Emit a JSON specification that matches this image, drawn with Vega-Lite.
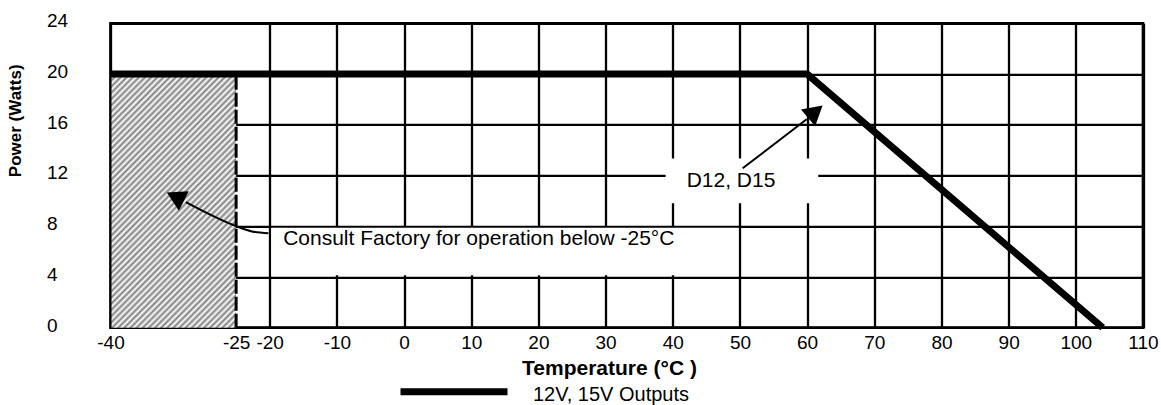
{
  "$schema": "https://vega.github.io/schema/vega-lite/v6.json",
  "autosize": "none",
  "width": 1032.5,
  "height": 304.4,
  "padding": {"left": 110.5, "top": 23.3, "right": 18, "bottom": 77.3},
  "config": {
    "font": "Liberation Sans",
    "view": {"stroke": "black", "strokeWidth": 2.7},
    "axis": {"labelFont": "Liberation Sans", "titleFont": "Liberation Sans", "labelColor": "black", "titleColor": "black"}
  },
  "datasets": {
    "region": [{"x": -43.7, "x2": -25, "y": 0, "y2": 20}],
    "boxes": [
      {"x": -20, "x2": 50, "y": 4, "y2": 8},
      {"x": 38.7, "x2": 61.9, "y": 9.68, "y2": 13.46}
    ],
    "curve": [
      {"x": -43.7, "y": 20, "series": "12V, 15V Outputs"},
      {"x": 60, "y": 20, "series": "12V, 15V Outputs"},
      {"x": 104, "y": 0, "series": "12V, 15V Outputs"}
    ],
    "leaders": [
      {"id": "a", "x": -20.19, "y": 7.44},
      {"id": "a", "x": -22.62, "y": 7.59},
      {"id": "a", "x": -24.85, "y": 7.98},
      {"id": "a", "x": -32.49, "y": 9.9},
      {"id": "b", "x": 50.4, "y": 12.57},
      {"id": "b", "x": 59.93, "y": 16.44}
    ],
    "heads": [
      {"id": "a", "x": -34.05, "y": 10.32},
      {"id": "b", "x": 61.22, "y": 17.03}
    ],
    "notes": [
      {"x": -18.0, "y": 7.0, "text": "Consult Factory for operation below -25°C"},
      {"x": 42.07, "y": 11.58, "text": "D12, D15"}
    ]
  },
  "layer": [
    {
      "data": {"name": "region"},
      "mark": {
        "type": "rect",
        "xOffset": 1,
        "fill": {
          "gradient": "linear",
          "x1": 0, "y1": 0, "x2": 0.975, "y2": 1.961,
          "stops": [
            {"offset":0,"color":"#808080"},{"offset":0.005,"color":"#fff"},{"offset":0.01,"color":"#808080"},{"offset":0.015,"color":"#fff"},
            {"offset":0.02,"color":"#808080"},{"offset":0.025,"color":"#fff"},{"offset":0.03,"color":"#808080"},{"offset":0.035,"color":"#fff"},
            {"offset":0.04,"color":"#808080"},{"offset":0.045,"color":"#fff"},{"offset":0.05,"color":"#808080"},{"offset":0.055,"color":"#fff"},
            {"offset":0.06,"color":"#808080"},{"offset":0.065,"color":"#fff"},{"offset":0.07,"color":"#808080"},{"offset":0.075,"color":"#fff"},
            {"offset":0.08,"color":"#808080"},{"offset":0.085,"color":"#fff"},{"offset":0.09,"color":"#808080"},{"offset":0.095,"color":"#fff"},
            {"offset":0.1,"color":"#808080"},{"offset":0.105,"color":"#fff"},{"offset":0.11,"color":"#808080"},{"offset":0.115,"color":"#fff"},
            {"offset":0.12,"color":"#808080"},{"offset":0.125,"color":"#fff"},{"offset":0.13,"color":"#808080"},{"offset":0.135,"color":"#fff"},
            {"offset":0.14,"color":"#808080"},{"offset":0.145,"color":"#fff"},{"offset":0.15,"color":"#808080"},{"offset":0.155,"color":"#fff"},
            {"offset":0.16,"color":"#808080"},{"offset":0.165,"color":"#fff"},{"offset":0.17,"color":"#808080"},{"offset":0.175,"color":"#fff"},
            {"offset":0.18,"color":"#808080"},{"offset":0.185,"color":"#fff"},{"offset":0.19,"color":"#808080"},{"offset":0.195,"color":"#fff"},
            {"offset":0.2,"color":"#808080"},{"offset":0.205,"color":"#fff"},{"offset":0.21,"color":"#808080"},{"offset":0.215,"color":"#fff"},
            {"offset":0.22,"color":"#808080"},{"offset":0.225,"color":"#fff"},{"offset":0.23,"color":"#808080"},{"offset":0.235,"color":"#fff"},
            {"offset":0.24,"color":"#808080"},{"offset":0.245,"color":"#fff"},{"offset":0.25,"color":"#808080"},{"offset":0.255,"color":"#fff"},
            {"offset":0.26,"color":"#808080"},{"offset":0.265,"color":"#fff"},{"offset":0.27,"color":"#808080"},{"offset":0.275,"color":"#fff"},
            {"offset":0.28,"color":"#808080"},{"offset":0.285,"color":"#fff"},{"offset":0.29,"color":"#808080"},{"offset":0.295,"color":"#fff"},
            {"offset":0.3,"color":"#808080"},{"offset":0.305,"color":"#fff"},{"offset":0.31,"color":"#808080"},{"offset":0.315,"color":"#fff"},
            {"offset":0.32,"color":"#808080"},{"offset":0.325,"color":"#fff"},{"offset":0.33,"color":"#808080"},{"offset":0.335,"color":"#fff"},
            {"offset":0.34,"color":"#808080"},{"offset":0.345,"color":"#fff"},{"offset":0.35,"color":"#808080"},{"offset":0.355,"color":"#fff"},
            {"offset":0.36,"color":"#808080"},{"offset":0.365,"color":"#fff"},{"offset":0.37,"color":"#808080"},{"offset":0.375,"color":"#fff"},
            {"offset":0.38,"color":"#808080"},{"offset":0.385,"color":"#fff"},{"offset":0.39,"color":"#808080"},{"offset":0.395,"color":"#fff"},
            {"offset":0.4,"color":"#808080"},{"offset":0.405,"color":"#fff"},{"offset":0.41,"color":"#808080"},{"offset":0.415,"color":"#fff"},
            {"offset":0.42,"color":"#808080"},{"offset":0.425,"color":"#fff"},{"offset":0.43,"color":"#808080"},{"offset":0.435,"color":"#fff"},
            {"offset":0.44,"color":"#808080"},{"offset":0.445,"color":"#fff"},{"offset":0.45,"color":"#808080"},{"offset":0.455,"color":"#fff"},
            {"offset":0.46,"color":"#808080"},{"offset":0.465,"color":"#fff"},{"offset":0.47,"color":"#808080"},{"offset":0.475,"color":"#fff"},
            {"offset":0.48,"color":"#808080"},{"offset":0.485,"color":"#fff"},{"offset":0.49,"color":"#808080"},{"offset":0.495,"color":"#fff"},
            {"offset":0.5,"color":"#808080"},{"offset":0.505,"color":"#fff"},{"offset":0.51,"color":"#808080"},{"offset":0.515,"color":"#fff"},
            {"offset":0.52,"color":"#808080"},{"offset":0.525,"color":"#fff"},{"offset":0.53,"color":"#808080"},{"offset":0.535,"color":"#fff"},
            {"offset":0.54,"color":"#808080"},{"offset":0.545,"color":"#fff"},{"offset":0.55,"color":"#808080"},{"offset":0.555,"color":"#fff"},
            {"offset":0.56,"color":"#808080"},{"offset":0.565,"color":"#fff"},{"offset":0.57,"color":"#808080"},{"offset":0.575,"color":"#fff"},
            {"offset":0.58,"color":"#808080"},{"offset":0.585,"color":"#fff"},{"offset":0.59,"color":"#808080"},{"offset":0.595,"color":"#fff"},
            {"offset":0.6,"color":"#808080"},{"offset":0.605,"color":"#fff"},{"offset":0.61,"color":"#808080"},{"offset":0.615,"color":"#fff"},
            {"offset":0.62,"color":"#808080"}
          ]
        }
      },
      "encoding": {
        "x": {
          "field": "x", "type": "quantitative",
          "scale": {"domain": [-43.7, 110], "nice": false, "zero": false},
          "axis": {
            "title": "Temperature (°C )",
            "values": [-43.7, -25, -20, -10, 0, 10, 20, 30, 40, 50, 60, 70, 80, 90, 100, 110],
            "labelExpr": "datum.value < -40 ? '-40' : '' + datum.value",
            "grid": true, "gridColor": "black", "gridWidth": 2.3,
            "gridOpacity": {"condition": {"test": "datum.value === -25", "value": 0}, "value": 1},
            "domain": false, "ticks": false,
            "labelPadding": 5.5, "labelFontSize": 19,
            "labelOverlap": false, "labelFlush": false, "labelBound": false,
            "titleFontSize": 21, "titleFontWeight": "bold",
            "titleX": 498.5, "titleY": 47, "titleBaseline": "alphabetic", "titleAlign": "center",
            "encode": {"labels": {"update": {"dx": {"signal": "datum.value < -40 ? -6 : datum.value === -25 ? -12 : datum.value === -20 ? -10 : -3"}}}}
          }
        },
        "x2": {"field": "x2"},
        "y": {
          "field": "y", "type": "quantitative",
          "scale": {"domain": [0, 24], "nice": false, "zero": false},
          "axis": {
            "title": "Power (Watts)",
            "values": [0, 4, 8, 12, 16, 20, 24],
            "labelExpr": "'' + datum.value",
            "grid": true, "gridColor": "black", "gridWidth": 2.3,
            "domain": false, "ticks": false,
            "labelAlign": "left", "labelPadding": 64, "labelBaseline": "middle", "labelOffset": -2.7,
            "labelFontSize": 19, "labelOverlap": false, "labelFlush": false, "labelBound": false,
            "titleFontSize": 17, "titleFontWeight": "bold",
            "titleX": -90, "titleY": 97, "titleAngle": -90, "titleBaseline": "alphabetic", "titleAlign": "center"
          }
        },
        "y2": {"field": "y2"}
      }
    },
    {
      "data": {"name": "boxes"},
      "mark": {"type": "rect", "fill": "white", "xOffset": 1.6, "x2Offset": -1.6, "yOffset": -1.6, "y2Offset": 1.6},
      "encoding": {
        "x": {"field": "x", "type": "quantitative"},
        "x2": {"field": "x2"},
        "y": {"field": "y", "type": "quantitative"},
        "y2": {"field": "y2"}
      }
    },
    {
      "data": {"name": "region"},
      "mark": {"type": "rule", "color": "black", "strokeWidth": 3, "strokeDash": [14, 3]},
      "encoding": {
        "x": {"field": "x2", "type": "quantitative"},
        "y": {"field": "y", "type": "quantitative"},
        "y2": {"field": "y2"}
      }
    },
    {
      "data": {"name": "curve"},
      "mark": {"type": "line", "strokeWidth": 7, "strokeCap": "butt", "strokeJoin": "miter"},
      "encoding": {
        "x": {"field": "x", "type": "quantitative"},
        "y": {"field": "y", "type": "quantitative"},
        "stroke": {
          "field": "series", "type": "nominal",
          "scale": {"range": ["black"]},
          "legend": {
            "orient": "none", "legendX": 286.5, "legendY": 311.4, "title": null,
            "symbolType": "stroke", "symbolSize": 11449, "symbolStrokeWidth": 7,
            "labelFontSize": 20, "labelOffset": 22, "labelLimit": 400, "padding": 0,
            "labelColor": "black", "labelFont": "Liberation Sans",
            "encode": {"labels": {"update": {"dy": {"value": 3.5}}}}
          }
        }
      }
    },
    {
      "data": {"name": "leaders"},
      "mark": {"type": "line", "color": "black", "strokeWidth": 2, "interpolate": "monotone"},
      "encoding": {
        "x": {"field": "x", "type": "quantitative"},
        "y": {"field": "y", "type": "quantitative"},
        "detail": {"field": "id", "type": "nominal"}
      }
    },
    {
      "data": {"name": "heads"},
      "transform": [{"filter": "datum.id === 'a'"}],
      "mark": {"type": "point", "shape": "triangle-up", "size": 480, "filled": true, "color": "black", "opacity": 1, "strokeWidth": 0, "angle": 296.6},
      "encoding": {
        "x": {"field": "x", "type": "quantitative"},
        "y": {"field": "y", "type": "quantitative"}
      }
    },
    {
      "data": {"name": "heads"},
      "transform": [{"filter": "datum.id === 'b'"}],
      "mark": {"type": "point", "shape": "triangle-up", "size": 480, "filled": true, "color": "black", "opacity": 1, "strokeWidth": 0, "angle": 49.8},
      "encoding": {
        "x": {"field": "x", "type": "quantitative"},
        "y": {"field": "y", "type": "quantitative"}
      }
    },
    {
      "data": {"name": "notes"},
      "mark": {"type": "text", "align": "left", "baseline": "middle", "fontSize": 21, "color": "black", "font": "Liberation Sans"},
      "encoding": {
        "x": {"field": "x", "type": "quantitative"},
        "y": {"field": "y", "type": "quantitative"},
        "text": {"field": "text", "type": "nominal"}
      }
    }
  ]
}
